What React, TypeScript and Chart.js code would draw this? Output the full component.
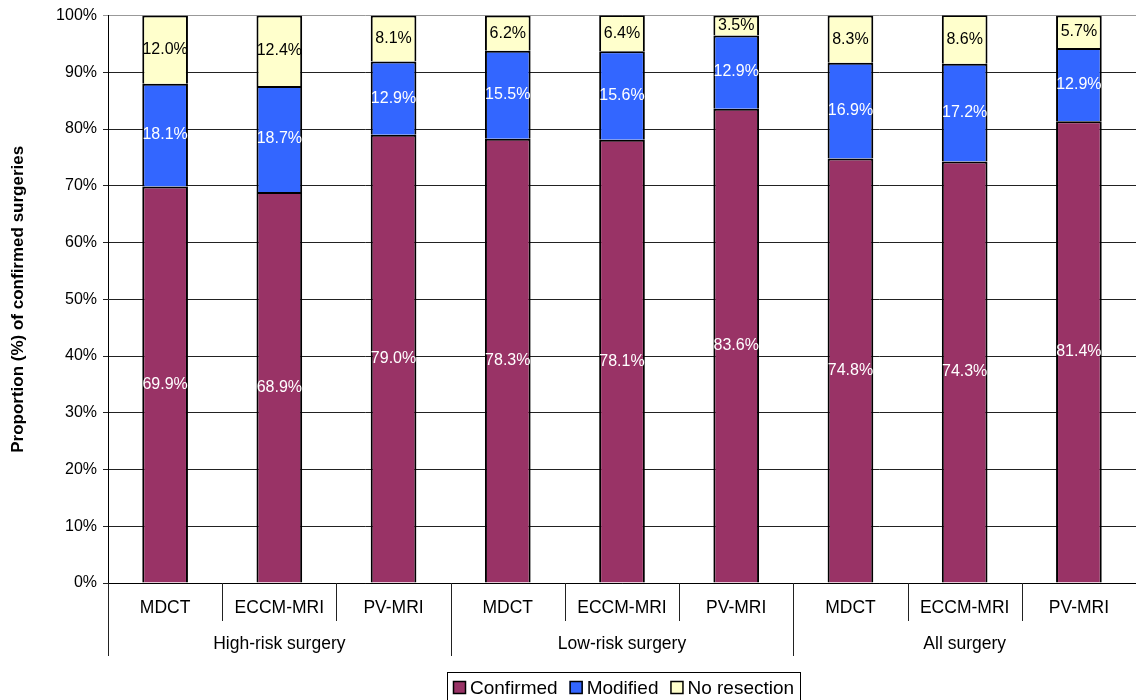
import React, { useEffect, useRef } from "react";
import { Chart, registerables } from "chart.js";

Chart.register(...registerables);

const subCategories = ["MDCT", "ECCM-MRI", "PV-MRI", "MDCT", "ECCM-MRI", "PV-MRI", "MDCT", "ECCM-MRI", "PV-MRI"];
const groups = ["High-risk surgery", "Low-risk surgery", "All surgery"];
const confirmed = [69.9, 68.9, 79.0, 78.3, 78.1, 83.6, 74.8, 74.3, 81.4];
const modified = [18.1, 18.7, 12.9, 15.5, 15.6, 12.9, 16.9, 17.2, 12.9];
const noResection = [12.0, 12.4, 8.1, 6.2, 6.4, 3.5, 8.3, 8.6, 5.7];
const seriesNames = ["Confirmed", "Modified", "No resection"];
const seriesColors = ["#993366", "#3366FF", "#FFFFCC"];
const labelColors = ["#ffffff", "#ffffff", "#000000"];
const yTitle = "Proportion (%) of confirmed surgeries";

const FONT = '"Liberation Sans", Arial, Helvetica, sans-serif';

const overlayPlugin = {
  id: "overlay",
  afterDatasetsDraw(chart: any) {
    const ctx = chart.ctx;
    ctx.save();
    ctx.font = `16px ${FONT}`;
    ctx.textAlign = "center";
    ctx.textBaseline = "middle";
    chart.data.datasets.forEach((ds: any, di: number) => {
      const meta = chart.getDatasetMeta(di);
      meta.data.forEach((bar: any, i: number) => {
        const v = ds.data[i];
        const p = bar.getProps(["x", "y", "base"], true);
        ctx.fillStyle = labelColors[di];
        ctx.fillText(v.toFixed(1) + "%", p.x, (p.y + p.base) / 2);
      });
    });
    ctx.restore();
  },
  afterDraw(chart: any) {
    const ctx = chart.ctx;
    const xs = chart.scales.x;
    const area = chart.chartArea;
    const n = subCategories.length;
    const w = (xs.right - xs.left) / n;
    ctx.save();

    // category separators below the axis
    ctx.strokeStyle = "#222";
    ctx.lineWidth = 1;
    for (let i = 0; i < n; i++) {
      const x = Math.round(xs.left + i * w) + 0.5;
      const long = i % 3 === 0;
      ctx.beginPath();
      ctx.moveTo(x, area.bottom);
      ctx.lineTo(x, long ? area.bottom + 73 : area.bottom + 38);
      ctx.stroke();
    }

    // sub-category and group labels
    ctx.fillStyle = "#000";
    ctx.textAlign = "center";
    ctx.textBaseline = "middle";
    ctx.font = `17.5px ${FONT}`;
    subCategories.forEach((s, i) => {
      ctx.fillText(s, xs.left + (i + 0.5) * w, area.bottom + 25);
    });
    groups.forEach((g, gi) => {
      ctx.fillText(g, xs.left + (gi * 3 + 1.5) * w, area.bottom + 61);
    });

    // y axis title
    ctx.save();
    ctx.translate(18, (area.top + area.bottom) / 2);
    ctx.rotate(-Math.PI / 2);
    ctx.font = `bold 17px ${FONT}`;
    ctx.fillText(yTitle, 0, 0);
    ctx.restore();

    // legend
    ctx.strokeStyle = "#000";
    ctx.lineWidth = 1;
    ctx.strokeRect(447.5, 672.5, 353, 40);
    ctx.font = `19px ${FONT}`;
    ctx.textAlign = "left";
    let lx = 453;
    const ly = 688;
    seriesNames.forEach((name, i) => {
      ctx.fillStyle = seriesColors[i];
      ctx.fillRect(lx, ly - 7, 13, 13);
      ctx.strokeStyle = "#000";
      ctx.lineWidth = 1.5;
      ctx.strokeRect(lx + 0.5, ly - 6.5, 12, 12);
      ctx.fillStyle = "#000";
      ctx.fillText(name, lx + 17, ly + 1);
      lx += 17 + ctx.measureText(name).width + 12;
    });
    ctx.restore();
  },
};

export default function App() {
  const canvasRef = useRef<HTMLCanvasElement | null>(null);

  useEffect(() => {
    const canvas = canvasRef.current;
    if (!canvas) return;
    const data = [confirmed, modified, noResection];
    const chart = new Chart(canvas, {
      type: "bar",
      data: {
        labels: subCategories,
        datasets: seriesNames.map((name, i) => ({
          label: name,
          data: data[i],
          backgroundColor: seriesColors[i],
          borderColor: "#000",
          borderWidth: 2,
          borderSkipped: "start",
          categoryPercentage: 1,
          barPercentage: 0.4,
        })),
      },
      options: {
        responsive: false,
        animation: false,
        devicePixelRatio: 1,
        layout: { padding: { top: 15, left: 0, right: 0, bottom: 0 } },
        plugins: {
          legend: { display: false },
          tooltip: { enabled: false },
        },
        scales: {
          x: {
            stacked: true,
            grid: { display: false },
            ticks: { display: false },
            border: { display: true, color: "#000", width: 1 },
            afterFit: (s: any) => {
              s.height = 117;
            },
          },
          y: {
            stacked: true,
            min: 0,
            max: 100,
            ticks: {
              stepSize: 10,
              padding: 6,
              color: "#000",
              font: { family: FONT, size: 16 },
              callback: (v: any) => v + "%",
            },
            grid: {
              color: (c: any) => (c.tick && c.tick.value === 100 ? "#999" : "#222"),
              tickLength: 5,
              drawTicks: true,
            },
            border: { display: true, color: "#000", width: 1 },
            afterFit: (s: any) => {
              s.width = 108;
            },
          },
        },
      },
      plugins: [overlayPlugin],
    });
    return () => chart.destroy();
  }, []);

  return (
    <div style={{ position: "absolute", left: 0, top: 0, width: 1136, height: 700, background: "#fff" }}>
      <canvas ref={canvasRef} width={1136} height={700} style={{ display: "block" }} />
    </div>
  );
}
